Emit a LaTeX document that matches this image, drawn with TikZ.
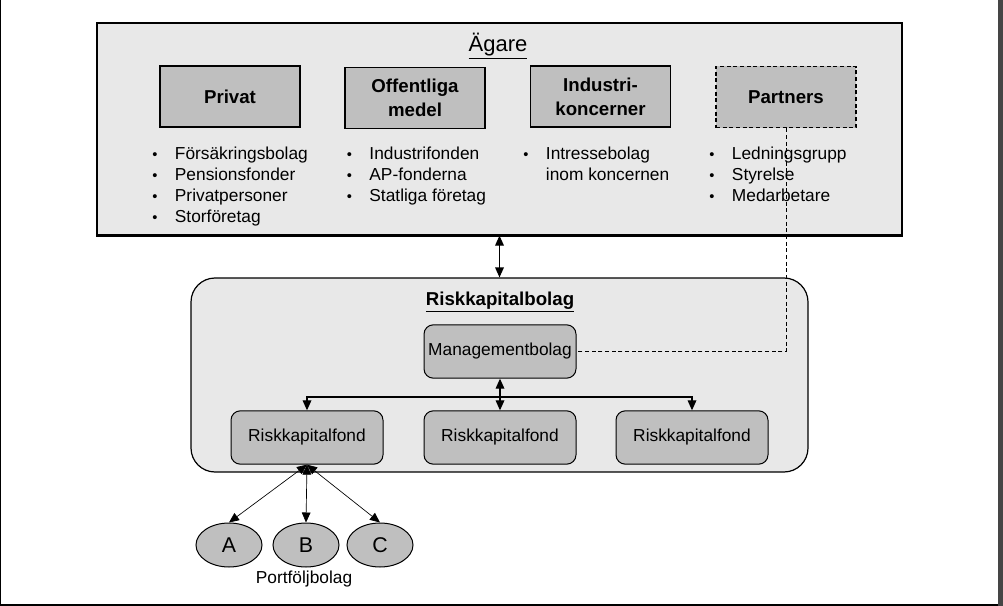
\documentclass[tikz,border=0pt]{standalone}
\usepackage{fontspec}
\setmainfont{Liberation Sans}
\usetikzlibrary{arrows.meta,shapes.geometric}
\definecolor{panelgray}{rgb}{0.91,0.91,0.91}
\definecolor{boxgray}{rgb}{0.75,0.75,0.75}
\definecolor{framegray}{rgb}{0.27,0.27,0.27}
\newcommand{\blt}{\makebox[17pt][l]{\fontsize{11}{11}\selectfont •}}

\begin{document}
\begin{tikzpicture}[x=0.75pt,y=-0.75pt,
    >={Triangle[length=7.5pt,width=6.5pt]},
    panel/.style={draw,line width=0.9pt,fill=panelgray,inner sep=0pt},
    owner/.style={draw,line width=1.2pt,fill=boxgray,minimum width=105pt,minimum height=46pt,
        align=center,inner sep=0pt,font=\fontsize{14}{18}\selectfont\bfseries},
    unit/.style={draw,line width=0.75pt,fill=boxgray,rounded corners=7pt,minimum width=114pt,
        minimum height=40pt,inner sep=0pt,font=\fontsize{13}{15}\selectfont},
    bolag/.style={ellipse,draw,line width=0.75pt,fill=boxgray,minimum width=49.5pt,
        minimum height=33pt,inner sep=0pt,font=\fontsize{16}{18}\selectfont},
    list/.style={anchor=base west,inner sep=0pt,font=\fontsize{13}{15.75}\selectfont},
    link/.style={line width=0.9pt}]
    \useasboundingbox (0,0) rectangle (1003,606);
    % frame
    \draw[line width=0.75pt] (0.5,0) -- (0.5,605);
    \draw[line width=1.5pt] (0,605) -- (998,605);
    \fill[framegray] (998,0) rectangle (1003,606);
    % owners
    \node[panel,minimum width=603.75pt,minimum height=159pt] (owners) at (499.5,129) {};
    \draw[line width=1.5pt] (owners.south west) -- (owners.south east);
    \node[font=\fontsize{16.5}{18}\selectfont] (ownertitle) at (498,46) {\underline{Ägare}};
    \node[owner] (privat) at (230,96.5) {Privat};
    \node[owner] (offentliga) at (415,98) {Offentliga\\medel};
    \node[owner] (industri) at (600.5,96.5) {Industri-\\koncerner};
    \node[owner,dash pattern=on 3pt off 2pt] (partners) at (786,97) {Partners};
    \node[list] (privatlist) at (152,160) {\begin{tabular}[t]{@{}l@{}l@{}}
        \blt & Försäkringsbolag\\ \blt & Pensionsfonder\\
        \blt & Privatpersoner\\ \blt & Storföretag\end{tabular}};
    \node[list] (offentligalist) at (346.5,160) {\begin{tabular}[t]{@{}l@{}l@{}}
        \blt & Industrifonden\\ \blt & AP-fonderna\\ \blt & Statliga företag\end{tabular}};
    \node[list] (industrilist) at (523,160) {\begin{tabular}[t]{@{}l@{}l@{}}
        \blt & Intressebolag\\ & inom koncernen\end{tabular}};
    \node[list] (partnerslist) at (709,160) {\begin{tabular}[t]{@{}l@{}l@{}}
        \blt & Ledningsgrupp\\ \blt & Styrelse\\ \blt & Medarbetare\end{tabular}};
    % riskkapitalbolag
    \node[panel,rounded corners=18pt,minimum width=462.75pt,minimum height=145.5pt] (fund) at (499.5,375) {};
    \node[font=\fontsize{14}{16}\selectfont\bfseries] (fundtitle) at (500,302) {\underline{Riskkapitalbolag}};
    \node[unit] (mgmt) at (500,351.5) {Managementbolag};
    \node[unit] (fund1) at (307,437.5) {Riskkapitalfond};
    \node[unit] (fund2) at (500,437.5) {Riskkapitalfond};
    \node[unit] (fund3) at (692,437.5) {Riskkapitalfond};
    \coordinate (split) at (500,397);
    % portfolio companies
    \node[bolag] (bolagA) at (229,545) {A};
    \node[bolag] (bolagB) at (306,545) {B};
    \node[bolag] (bolagC) at (380,545) {C};
    \node[font=\fontsize{13}{15}\selectfont] (portfolj) at (304,579) {Portföljbolag};
    % connectors
    \draw[link,<->] (owners) -- (fund);
    \draw[link,<->] (mgmt) -- (fund2);
    \draw[link,->] (split) -| (fund1);
    \draw[link,->] (split) -| (fund3);
    \draw[line width=0.6pt,dash pattern=on 3pt off 2pt] (partners) |- (mgmt);
    \draw[line width=0.5pt,<->] (fund1.south) -- (bolagA.north);
    \draw[line width=0.5pt,<->] (fund1.south) -- (bolagB.north);
    \draw[line width=0.5pt,<->] (fund1.south) -- (bolagC.north);
\end{tikzpicture}
\end{document}
